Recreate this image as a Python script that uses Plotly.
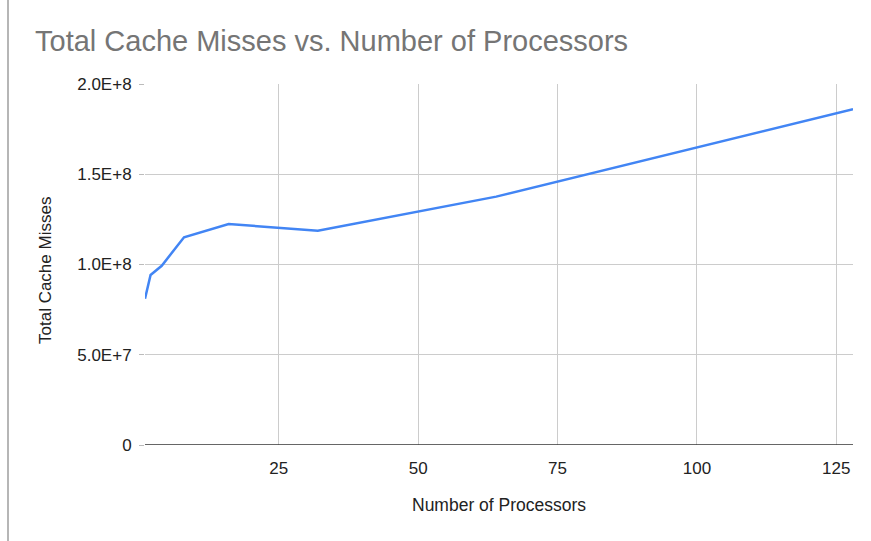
import plotly.graph_objects as go

# Measured cache misses per processor count
processors = [1, 2, 4, 8, 16, 32, 64, 128]
cache_misses = [8.1e7, 9.42e7, 9.93e7, 1.151e8, 1.224e8, 1.187e8, 1.376e8, 1.861e8]

y_tick_vals = [0, 5e7, 1e8, 1.5e8, 2e8]
y_tick_text = ["0", "5.0E+7", "1.0E+8", "1.5E+8", "2.0E+8"]
x_tick_vals = [25, 50, 75, 100, 125]

W, H = 871, 541
L, R, T, B = 145, 18, 84, 96
PW, PH = W - L - R, H - T - B
FONT = "Arial, 'Liberation Sans', sans-serif"

fig = go.Figure()
fig.add_trace(go.Scatter(
    x=processors, y=cache_misses, mode="lines",
    line=dict(color="#4285F4", width=2.5),
    hoverinfo="x+y", showlegend=False,
))

fig.update_layout(
    width=W, height=H,
    margin=dict(l=L, r=R, t=T, b=B),
    paper_bgcolor="white", plot_bgcolor="white",
    font=dict(family=FONT, color="#222222", size=17),
    title=dict(
        text="Total Cache Misses vs. Number of Processors",
        x=35 / W, xanchor="left", y=1 - 41 / H, yanchor="middle",
        font=dict(size=29, color="#757575", family=FONT),
    ),
    xaxis=dict(
        range=[1, 128], tickvals=x_tick_vals,
        showgrid=True, gridcolor="#cccccc", gridwidth=1,
        zeroline=False, showline=False, ticks="",
        ticklabelstandoff=11,
        tickfont=dict(size=17, color="#222222", family=FONT),
    ),
    yaxis=dict(
        range=[0, 2e8], tickvals=y_tick_vals, ticktext=y_tick_text,
        showgrid=True, gridcolor="#cccccc", gridwidth=1,
        zeroline=False, showline=False,
        ticks="outside", ticklen=5, tickcolor="#bbbbbb",
        ticklabelstandoff=4,
        tickfont=dict(size=17, color="#222222", family=FONT),
    ),
    annotations=[
        dict(text="Number of Processors", xref="paper", yref="paper",
             x=(499 - L) / PW, y=-(505 - (T + PH)) / PH,
             xanchor="center", yanchor="middle", showarrow=False,
             font=dict(size=17.5, color="#222222", family=FONT)),
        dict(text="Total Cache Misses", xref="paper", yref="paper",
             x=-(L - 45) / PW, y=(T + PH - 271) / PH,
             xanchor="center", yanchor="middle", showarrow=False, textangle=-90,
             font=dict(size=17, color="#222222", family=FONT)),
    ],
    shapes=[
        # baseline at zero
        dict(type="line", xref="paper", yref="y", x0=0, x1=1, y0=0, y1=0,
             line=dict(color="#333333", width=1.5)),
        # sheet border at the far left
        dict(type="line", xref="paper", yref="paper",
             x0=-(L - 8) / PW, x1=-(L - 8) / PW,
             y0=-B / PH, y1=1 + T / PH,
             line=dict(color="#9e9e9e", width=1.5)),
    ],
)

fig.write_html("out.html")
